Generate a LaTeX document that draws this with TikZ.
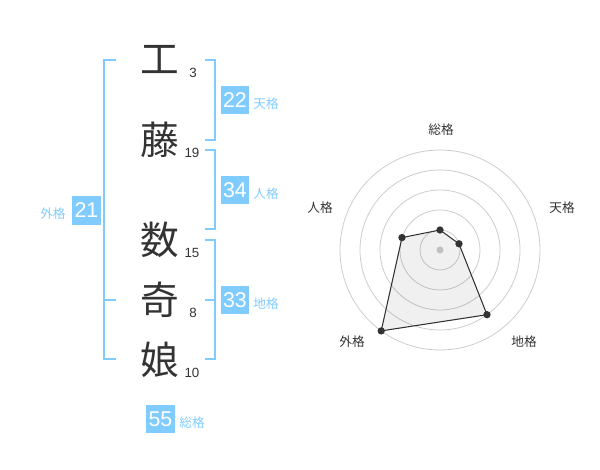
\documentclass[tikz,border=0pt]{standalone}
\usepackage{fontspec}
\setmainfont{Liberation Sans}
\newfontfamily\cjk{Noto Sans CJK JP}
\definecolor{sky}{RGB}{128,204,255}
\definecolor{ink}{RGB}{51,51,51}
\definecolor{ring}{RGB}{204,204,204}
\begin{document}
\begin{tikzpicture}[x=0.75pt,y=-0.75pt,
  kanji/.style={font=\cjk\fontsize{29}{30}\selectfont,text=ink,inner sep=0pt},
  strokes/.style={font=\fontsize{10}{11}\selectfont,text=ink,inner sep=0pt},
  valbox/.style={fill=sky,text=white,minimum width=21.5pt,minimum height=21.5pt,inner sep=0pt,font=\fontsize{16}{17}\selectfont},
  kaku/.style={font=\cjk\fontsize{9.5}{10}\selectfont,text=sky,inner sep=0pt},
  bracket/.style={draw=sky,line width=1.5pt},
  axislabel/.style={font=\cjk\fontsize{9.5}{10}\selectfont,text=ink,inner sep=0pt},
  ringline/.style={draw=ring,line width=0.6pt},
  dot/.style={circle,fill=ink,inner sep=0pt,minimum size=5.5pt}]
\useasboundingbox (0,0) rectangle (600,470);
% kanji
\node[kanji] (k1) at (160,60) {工};
\node[kanji] (k2) at (160,140) {藤};
\node[kanji] (k3) at (160,240) {数};
\node[kanji] (k4) at (160,300) {奇};
\node[kanji] (k5) at (160,360) {娘};
\node[strokes] (s1) at (193,73) {3};
\node[strokes] (s2) at (192,153) {19};
\node[strokes] (s3) at (192,253) {15};
\node[strokes] (s4) at (193,313) {8};
\node[strokes] (s5) at (192,373) {10};
% brackets
\draw[bracket] (116,60) -- (104,60) -- (104,359) -- (116,359);
\draw[bracket] (104,300) -- (116,300);
\draw[bracket] (205,60) -- (215,60) -- (215,140) -- (205,140);
\draw[bracket] (205,150) -- (215,150) -- (215,229) -- (205,229);
\draw[bracket] (205,240) -- (215,240) -- (215,359) -- (205,359);
\draw[bracket] (205,300) -- (215,300);
% value boxes
\node[valbox] (b21) at (86.5,210.5) {21};
\node[kaku] (l21) at (53,214) {外格};
\node[valbox] (b22) at (235,100) {22};
\node[kaku] (l22) at (266,104) {天格};
\node[valbox] (b34) at (235,190) {34};
\node[kaku] (l34) at (266,194) {人格};
\node[valbox] (b33) at (235,300) {33};
\node[kaku] (l33) at (266,304) {地格};
\node[valbox] (b55) at (160.5,419) {55};
\node[kaku] (l55) at (192,423) {総格};
% radar
\coordinate (c) at (440,250);
\foreach \r in {20,40,60,80,100} \draw[ringline] (c) circle[radius=\r];
\fill[ring] (c) circle[radius=3.5];
\coordinate (p1) at (440,230);
\coordinate (p2) at (459.0,243.8);
\coordinate (p3) at (487.0,314.7);
\coordinate (p4) at (381.2,330.9);
\coordinate (p5) at (402.0,237.6);
\fill[black,opacity=0.06] (p1) -- (p2) -- (p3) -- (p4) -- (p5) -- cycle;
\draw[ink,line width=0.8pt] (p1) -- (p2) -- (p3) -- (p4) -- (p5) -- cycle;
\foreach \p in {p1,p2,p3,p4,p5} \node[dot] at (\p) {};
\node[axislabel] (a1) at (441,130) {総格};
\node[axislabel] (a2) at (562,208) {天格};
\node[axislabel] (a3) at (320,208) {人格};
\node[axislabel] (a4) at (352,342) {外格};
\node[axislabel] (a5) at (524,342) {地格};
\end{tikzpicture}
\end{document}
